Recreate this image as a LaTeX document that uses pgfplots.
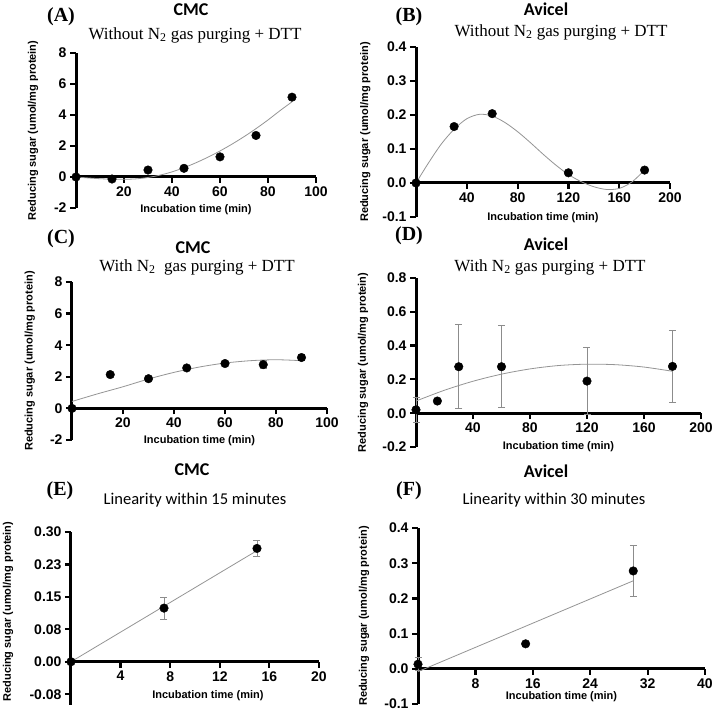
\documentclass[border=0pt]{standalone}
\usepackage{fontspec}
\setmainfont{Liberation Sans}
\newfontfamily\serifrm{Liberation Serif}
\newfontfamily\calibri{Carlito}
\usepackage{pgfplots}
\pgfplotsset{compat=1.18}
\usepackage{pgfplotstable}

\pgfplotstableread{
x y
0 0
15 -0.13
30 0.45
45 0.56
60 1.3
75 2.68
90 5.15
}\dataA
\pgfplotstableread{
x y
0 0
5 -0.06
10 -0.11
15 -0.14
20 -0.15
25 -0.12
30 -0.03
35 0.12
40 0.33
45 0.6
50 0.92
55 1.28
60 1.68
65 2.12
70 2.6
75 3.12
80 3.68
85 4.28
90 4.85
}\fitA
\pgfplotstableread{
x y
0 0
30 0.166
60 0.204
120 0.03
180 0.038
}\dataB
\pgfplotstableread{
x y
0 0
10 0.06
20 0.115
30 0.158
40 0.189
50 0.202
60 0.197
70 0.178
80 0.151
90 0.119
100 0.085
110 0.053
120 0.025
130 0.004
140 -0.011
150 -0.019
160 -0.016
170 0.003
180 0.038
}\fitB
\pgfplotstableread{
x y e
0 0 0
15 2.14 0
30 1.88 0
45 2.56 0
60 2.84 0
75 2.77 0.27
90 3.22 0
}\dataC
\pgfplotstableread{
x y
0 0.44
10 0.92
20 1.37
30 1.86
40 2.28
50 2.62
60 2.87
70 3.02
80 3.08
90 3.02
}\fitC
\pgfplotstableread{
x y e
0 0.02 0.073
15 0.072 0.012
30 0.275 0.248
60 0.275 0.243
120 0.19 0.2
180 0.277 0.215
}\dataD
\pgfplotstableread{
x y
0 0.072
20 0.136
40 0.189
60 0.231
80 0.262
100 0.282
120 0.29
140 0.287
160 0.273
180 0.248
}\fitD
\pgfplotstableread{
x y e
0 0 0
7.5 0.124 0.025
15 0.262 0.018
}\dataE
\pgfplotstableread{
x y e
0 0.013 0.018
15 0.071 0
30 0.278 0.072
}\dataF

\pgfplotsset{
  every axis/.append style={
    scale only axis,
    axis x line=middle, axis y line=left,
    clip=false,
    xmin=0,
    xlabel={Incubation time (min)},
    ylabel={Reducing sugar (umol/mg protein)},
    /pgf/number format/assume math mode=true,
  },
  every tick label/.append style={font=\bfseries\fontsize{14}{14}\selectfont},
  every axis label/.append style={font=\bfseries\fontsize{11}{11}\selectfont},
  gp/.style={
    x axis line style={-, line width=3pt, black},
    y axis line style={-, line width=3pt, black},
    xtick style={line width=2.2pt, black},
    ytick style={line width=2.2pt, black},
    tick align=outside, major tick length=6pt,
  },
  onedec/.style={yticklabel style={/pgf/number format/.cd, fixed, fixed zerofill, precision=1}},
  fit/.style={color=black!42, line width=0.8pt, no marks},
  dots/.style={only marks, mark=*, mark size=4.3pt, black},
  errdots/.style={only marks, mark=*, mark size=4.3pt, black,
    error bars/.cd, y dir=both, y explicit,
    error bar style={black!45, line width=0.8pt},
    error mark options={rotate=90, mark size=3.5pt, line width=0.8pt, black!45}},
}

\begin{document}
\begin{tikzpicture}
\useasboundingbox (0,0) rectangle (714pt,716pt);

% (A)
\begin{axis}[gp, at={(76pt,508pt)}, anchor=south west, width=240pt, height=155pt,
  xmax=100, ymin=-2, ymax=8, xtick={20,40,60,80,100}, ytick={-2,0,2,4,6,8},
  xlabel style={at={(axis description cs:0.5,-0.013)}, anchor=center},
  ylabel style={at={(axis description cs:-0.179,0.5)}, anchor=center}]
\addplot[fit, smooth] table {\fitA};
\addplot[dots] table {\dataA};
\end{axis}

% (B)
\begin{axis}[gp, onedec, at={(416pt,499pt)}, anchor=south west, width=254pt, height=170pt,
  xmax=200, ymin=-0.1, ymax=0.4, xtick={40,80,120,160,200}, ytick={-0.1,0,0.1,0.2,0.3,0.4},
  xlabel style={at={(axis description cs:0.5,-0.006)}, anchor=center},
  ylabel style={at={(axis description cs:-0.2,0.5)}, anchor=center}]
\addplot[fit, smooth] table {\fitB};
\addplot[dots] table {\dataB};
\end{axis}

% (C)
\begin{axis}[gp, at={(72pt,276pt)}, anchor=south west, width=255pt, height=158pt,
  xmax=100, ymin=-2, ymax=8, xtick={20,40,60,80,100}, ytick={-2,0,2,4,6,8},
  xlabel style={at={(axis description cs:0.5,-0.005)}, anchor=center},
  ylabel style={at={(axis description cs:-0.165,0.5)}, anchor=center}]
\addplot[fit, smooth] table {\fitC};
\addplot[errdots] table[y error=e] {\dataC};
\end{axis}

% (D)
\begin{axis}[gp, onedec, at={(416pt,269pt)}, anchor=south west, width=285pt, height=169pt,
  xmax=200, ymin=-0.2, ymax=0.8, xtick={40,80,120,160,200}, ytick={-0.2,0,0.2,0.4,0.6,0.8},
  xlabel style={at={(axis description cs:0.5,0)}, anchor=center},
  ylabel style={at={(axis description cs:-0.186,0.5)}, anchor=center}]
\addplot[fit, smooth] table {\fitD};
\addplot[errdots] table[y error=e] {\dataD};
\end{axis}

% (E)
\begin{axis}[gp, at={(71pt,11pt)}, anchor=south west, width=248pt, height=173pt,
  xmax=20, ymin=-0.1, ymax=0.3, xtick={4,8,12,16,20},
  ytick={-0.075,0,0.075,0.15,0.225,0.3},
  yticklabels={-0.08,0.00,0.08,0.15,0.23,0.30},
  xlabel style={at={(axis description cs:0.552,0.052)}, anchor=center},
  ylabel style={at={(axis description cs:-0.254,0.54)}, anchor=center}]
\addplot[fit] coordinates {(0,0) (15,0.257)};
\addplot[errdots] table[y error=e] {\dataE};
\end{axis}

% (F)
\begin{axis}[gp, onedec, at={(418pt,12pt)}, anchor=south west, width=287pt, height=176pt,
  xmax=40, ymin=-0.1, ymax=0.4, xtick={8,16,24,32,40}, ytick={-0.1,0,0.1,0.2,0.3,0.4},
  xlabel style={at={(axis description cs:0.5,0.04)}, anchor=center},
  ylabel style={at={(axis description cs:-0.188,0.5)}, anchor=center}]
\addplot[fit] coordinates {(0,-0.008) (30,0.25)};
\addplot[errdots] table[y error=e] {\dataF};
\end{axis}

% panel letters and titles
\tikzset{letter/.style={font=\serifrm\bfseries\fontsize{20}{20}\selectfont},
  head/.style={font=\calibri\bfseries\fontsize{18}{18}\selectfont},
  sub/.style={font=\serifrm\fontsize{17}{17}\selectfont},
  subc/.style={font=\calibri\fontsize{16.5}{16.5}\selectfont}}
\node[letter] at (61pt,699pt) {(A)};
\node[head] at (191pt,706pt) {CMC};
\node[sub] at (195pt,681pt) {Without N\textsubscript{2} gas purging + DTT};
\node[letter] at (409pt,699pt) {(B)};
\node[head] at (546pt,707pt) {Avicel};
\node[sub] at (561pt,684pt) {Without N\textsubscript{2} gas purging + DTT};
\node[letter] at (61pt,477pt) {(C)};
\node[head] at (193pt,468pt) {CMC};
\node[sub] at (197pt,449pt) {With N\textsubscript{2}\ \ gas purging + DTT};
\node[letter] at (409pt,480pt) {(D)};
\node[head] at (546pt,472pt) {Avicel};
\node[sub] at (550pt,449pt) {With N\textsubscript{2} gas purging + DTT};
\node[letter] at (60pt,225pt) {(E)};
\node[head] at (192pt,246pt) {CMC};
\node[subc] at (195pt,216pt) {Linearity within 15 minutes};
\node[letter] at (409pt,225pt) {(F)};
\node[head] at (546pt,245pt) {Avicel};
\node[subc] at (554pt,216pt) {Linearity within 30 minutes};
\end{tikzpicture}
\end{document}
